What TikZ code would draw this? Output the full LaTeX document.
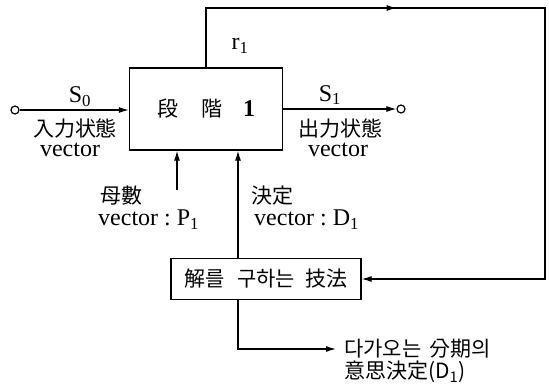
\documentclass[tikz,border=0pt]{standalone}
\usepackage{fontspec}
\setmainfont{Liberation Serif}
\newfontfamily\kr{Noto Sans CJK KR}
\usetikzlibrary{arrows.meta, positioning, calc, decorations.markings}

\begin{document}
\begin{tikzpicture}[x=1pt, y=-1pt,
      stagebox/.style={rectangle, draw, line width=1.3pt, minimum width=153pt,
                       minimum height=82pt, inner sep=0pt},
      methodbox/.style={rectangle, draw, line width=1.3pt, minimum width=190pt,
                        minimum height=41pt, inner sep=0pt},
      port/.style={circle, draw, line width=1.2pt, minimum size=8pt, inner sep=0pt},
      arr/.style={-{Latex[length=10pt, width=6pt]}, line width=1.2pt},
      midarr/.style={postaction={decorate}, decoration={markings,
                     mark=at position 250pt with {\arrow{Latex[length=10pt, width=6pt]}}}},
      krlabel/.style={font=\kr\fontsize{21}{23}\selectfont, inner sep=0pt},
      label/.style={font=\fontsize{24}{26}\selectfont, inner sep=0pt},
    ]
      \useasboundingbox (0,0) rectangle (549,383);

      \node[stagebox] (stage) at (206,109)
            {{\kr\fontsize{21}{23}\selectfont 段}\hspace{24pt}{\kr\fontsize{21}{23}\selectfont 階}\hspace{20pt}{\fontsize{24}{26}\selectfont\bfseries 1}};
      \node[methodbox] (method) at (266,279)
            {\kr\fontsize{21}{23}\selectfont 解를\hspace{12pt}구하는\hspace{10pt}技法};

      \node[port] (in) at (15,110) {};
      \node[port] (out) at (401,109) {};

      \coordinate (corner) at (545,8);
      \coordinate (param) at (177,190);
      \coordinate (dec) at (238,0);

      \node[label] (r1) at (240,46) {r\textsubscript{1}};
      \node[label, anchor=south] (s0) at (80,107) {S\textsubscript{0}};
      \node[krlabel] (inlab) at (75,129) {入力状態};
      \node[label] (invec) at (70,150) {vector};
      \node[label, anchor=south] (s1) at (330,105) {S\textsubscript{1}};
      \node[krlabel] (outlab) at (340,129) {出力状態};
      \node[label] (outvec) at (338,150) {vector};
      \node[krlabel, anchor=west] (parlab) at (100,196) {母數};
      \node[label, anchor=west] (parvec) at (98,220) {vector :\ P\textsubscript{1}};
      \node[krlabel, anchor=west] (declab) at (251,196) {決定};
      \node[label, anchor=west] (decvec) at (254,220) {vector :\ D\textsubscript{1}};
      \node[krlabel, anchor=west] (next) at (344,349) {다가오는\hspace{8pt}分期의};
      \node[krlabel, anchor=west] (next2) at (344,372) {意思決定(D\textsubscript{1})};

      \draw[arr] (in) -- (in -| stage.west);
      \draw[arr] (out -| stage.east) -- (out);
      \draw[arr, midarr] (stage.north) |- (corner) |- (method.east);
      \draw[arr] (param) -- (param |- stage.south);
      \draw[arr] (dec |- method.north) -- (dec |- stage.south);
      \draw[arr] (dec |- method.south) |- ([xshift=-8pt]next.west);
    \end{tikzpicture}
\end{document}
